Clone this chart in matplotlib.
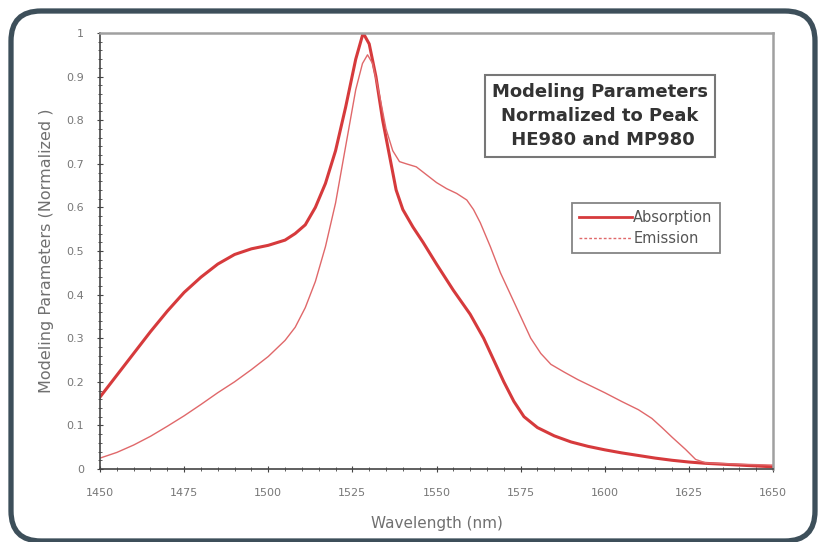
import matplotlib
matplotlib.use("Agg")
import matplotlib.pyplot as plt
from matplotlib.patches import FancyBboxPatch
from matplotlib.lines import Line2D
from matplotlib.transforms import IdentityTransform
from matplotlib.ticker import MultipleLocator

plt.rcParams['font.family'] = ['DejaVu Sans']

# Data
abs_wl = [1450, 1455, 1460, 1465, 1470, 1475, 1480, 1485, 1490, 1495, 1500, 1505, 1508,
          1511, 1514, 1517, 1520, 1523, 1526, 1528.2, 1530, 1532, 1534, 1536, 1538, 1540,
          1543, 1546, 1550, 1555, 1560, 1564, 1567, 1570, 1573, 1576, 1580, 1585, 1590,
          1595, 1600, 1605, 1610, 1615, 1620, 1625, 1630, 1640, 1650]
abs_val = [0.165, 0.215, 0.265, 0.315, 0.362, 0.405, 0.44, 0.47, 0.492, 0.505, 0.513, 0.525,
           0.54, 0.56, 0.60, 0.655, 0.73, 0.83, 0.94, 1.0, 0.975, 0.90, 0.80, 0.72, 0.64,
           0.595, 0.555, 0.52, 0.47, 0.41, 0.355, 0.30, 0.25, 0.20, 0.155, 0.12, 0.095,
           0.076, 0.062, 0.052, 0.044, 0.037, 0.031, 0.025, 0.02, 0.016, 0.013, 0.009, 0.005]

em_wl = [1450, 1455, 1460, 1465, 1470, 1475, 1480, 1485, 1490, 1495, 1500, 1505, 1508,
         1511, 1514, 1517, 1520, 1523, 1526, 1528, 1529.5, 1531, 1533, 1535, 1537, 1539,
         1541, 1544, 1547, 1550, 1553, 1556, 1559, 1561, 1563, 1566, 1569, 1572, 1575,
         1578, 1581, 1584, 1588, 1592, 1596, 1600, 1605, 1610, 1614, 1617, 1620, 1624,
         1627, 1630, 1640, 1650]
em_val = [0.025, 0.038, 0.055, 0.075, 0.098, 0.122, 0.148, 0.175, 0.20, 0.228, 0.258, 0.295,
          0.325, 0.37, 0.43, 0.51, 0.61, 0.74, 0.87, 0.93, 0.95, 0.93, 0.86, 0.78, 0.73,
          0.705, 0.70, 0.693, 0.675, 0.657, 0.643, 0.632, 0.617, 0.595, 0.565, 0.51, 0.45,
          0.40, 0.35, 0.30, 0.265, 0.24, 0.222, 0.205, 0.19, 0.175, 0.155, 0.136, 0.116,
          0.095, 0.073, 0.045, 0.022, 0.014, 0.011, 0.009]

x_ticks = [1450, 1475, 1500, 1525, 1550, 1575, 1600, 1625, 1650]
y_ticks = [0, 0.1, 0.2, 0.3, 0.4, 0.5, 0.6, 0.7, 0.8, 0.9, 1]
y_tick_labels = ['0', '0.1', '0.2', '0.3', '0.4', '0.5', '0.6', '0.7', '0.8', '0.9', '1']

W, H = 825, 542
fig = plt.figure(figsize=(W / 100, H / 100), dpi=100)
fig.patch.set_facecolor('white')

# Rounded outer border (pixel coordinates, origin bottom-left)
border = FancyBboxPatch((11 + 30, H - 541 + 30), 804 - 60, 530 - 60,
                        boxstyle="round,pad=30", transform=IdentityTransform(),
                        facecolor='none', edgecolor='#3d4f5a', linewidth=3.8,
                        figure=fig)
fig.patches.append(border)

ax = fig.add_axes([100 / W, 1 - 469 / H, (773 - 100) / W, (469 - 33) / H])
ax.set_facecolor('white')

red = '#d63a3c'
ax.plot(abs_wl, abs_val, color=red, linewidth=2.2, solid_joinstyle='round')
ax.plot(em_wl, em_val, color='#e0686a', linewidth=1.0, solid_joinstyle='round')

ax.set_xlim(1450, 1650)
ax.set_ylim(0, 1)
ax.set_xticks(x_ticks)
ax.set_xticklabels([str(v) for v in x_ticks])
ax.set_yticks(y_ticks)
ax.set_yticklabels(y_tick_labels)
ax.xaxis.set_minor_locator(MultipleLocator(5))
ax.yaxis.set_minor_locator(MultipleLocator(0.02))

for s in ['top', 'right']:
    ax.spines[s].set_color('#a0a0a0')
    ax.spines[s].set_linewidth(1.8)
for s in ['left', 'bottom']:
    ax.spines[s].set_color('#444444')
    ax.spines[s].set_linewidth(1.2)

ax.tick_params(axis='both', which='major', direction='inout', length=5, width=0.8,
               colors='#444444', labelcolor='#777777', labelsize=8)
ax.tick_params(axis='both', which='minor', direction='inout', length=3, width=0.6,
               colors='#444444')
ax.tick_params(axis='x', pad=11)
ax.tick_params(axis='y', pad=9)

ax.set_xlabel('Wavelength (nm)', color='#707070', fontsize=11, labelpad=13)
ax.set_ylabel('Modeling Parameters (Normalized )', color='#707070', fontsize=11.5, labelpad=9)

# Title box
fig.text(600 / W, 1 - 116 / H, 'Modeling Parameters\nNormalized to Peak\n HE980 and MP980',
         ha='center', va='center', fontsize=13, fontweight='bold', color='#333333',
         linespacing=1.45,
         bbox=dict(boxstyle='square,pad=0.4', facecolor='white', edgecolor='#777777',
                   linewidth=1.5))

# Legend
handles = [Line2D([], [], color=red, linewidth=2.0),
           Line2D([], [], color='#e0686a', linewidth=1.0, linestyle=(0, (2, 1.5)))]
leg = ax.legend(handles, ['Absorption', 'Emission'], loc='upper left',
                bbox_to_anchor=((572 - 100) / (773 - 100), (469 - 203) / (469 - 33)),
                fontsize=10.5, frameon=True, fancybox=False, handlelength=3.6,
                handletextpad=0.1, borderpad=0.5, labelspacing=0.4, borderaxespad=0)
leg.get_frame().set_edgecolor('#666666')
leg.get_frame().set_linewidth(1.3)
for t in leg.get_texts():
    t.set_color('#555555')

fig.savefig('out.png', dpi=100, facecolor='white')
